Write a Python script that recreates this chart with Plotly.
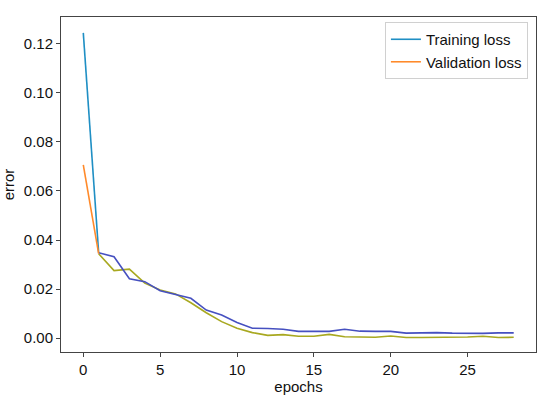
import plotly.graph_objects as go

epochs = list(range(29))
training_loss = [0.1245, 0.0348, 0.0332, 0.0242, 0.0230, 0.0193, 0.0177, 0.0162, 0.0114, 0.0094,
                 0.0063, 0.0040, 0.0039, 0.0036, 0.0027, 0.0027, 0.0027, 0.0036, 0.0028, 0.0027,
                 0.0027, 0.0020, 0.0022, 0.0022, 0.0020, 0.0019, 0.0019, 0.0021, 0.0021]
validation_loss = [0.0707, 0.0344, 0.0275, 0.0281, 0.0224, 0.0196, 0.0180, 0.0144, 0.0103, 0.0067,
                   0.0040, 0.0022, 0.0011, 0.0014, 0.0007, 0.0007, 0.0015, 0.0005, 0.0003, 0.0003,
                   0.0008, 0.0002, 0.0002, 0.0002, 0.0004, 0.0004, 0.0007, 0.0002, 0.0003]
y_ticks = [0.00, 0.02, 0.04, 0.06, 0.08, 0.10, 0.12]
x_ticks = [0, 5, 10, 15, 20, 25]

train_head_color = "#1f8fc4"
train_tail_color = "#4650c0"
val_head_color = "#ff8a2a"
val_tail_color = "#a8a820"

fig = go.Figure()
fig.add_trace(go.Scatter(x=epochs[1:], y=validation_loss[1:], mode="lines",
                         line=dict(color=val_tail_color, width=1.6), showlegend=False))
fig.add_trace(go.Scatter(x=epochs[1:], y=training_loss[1:], mode="lines",
                         line=dict(color=train_tail_color, width=1.6), showlegend=False))
fig.add_trace(go.Scatter(x=epochs[:2], y=training_loss[:2], mode="lines", name="Training loss",
                         line=dict(color=train_head_color, width=1.6)))
fig.add_trace(go.Scatter(x=epochs[:2], y=validation_loss[:2], mode="lines", name="Validation loss",
                         line=dict(color=val_head_color, width=1.6)))

axis_common = dict(showline=True, linecolor="#444444", linewidth=1, mirror=True,
                   ticks="outside", ticklen=4, tickcolor="#444444", showgrid=False,
                   zeroline=False, automargin=False, tickfont=dict(size=15, color="#111111"))

fig.update_layout(
    width=550, height=399,
    margin=dict(l=61, r=14, t=17, b=47),
    paper_bgcolor="white", plot_bgcolor="white",
    font=dict(family="Liberation Sans, Arial, sans-serif", size=15, color="#111111"),
    xaxis=dict(range=[-1.45, 29.45], tickvals=x_ticks,
               title=dict(text="epochs", font=dict(size=15), standoff=0), **axis_common),
    yaxis=dict(range=[-0.0057, 0.1310], tickvals=y_ticks, tickformat=".2f",
               title=dict(text="error", font=dict(size=15), standoff=6), **axis_common),
    legend=dict(x=0.983, y=0.985, xanchor="right", yanchor="top",
                bgcolor="white", bordercolor="#d0d0d0", borderwidth=1,
                font=dict(size=15), tracegroupgap=0, itemwidth=30),
)

fig.write_html("out.html", config={"displayModeBar": False},
               post_script="document.body.style.margin='0';document.body.style.overflow='hidden';")
